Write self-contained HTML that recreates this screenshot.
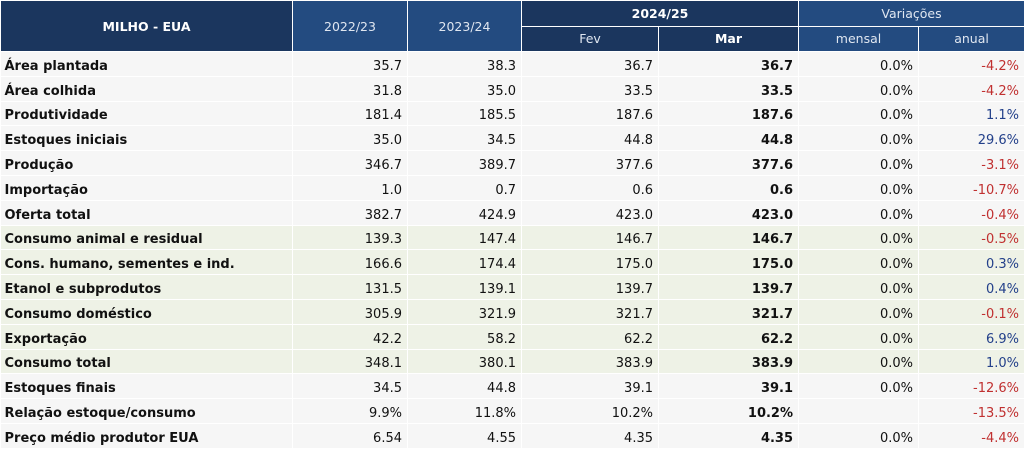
<!DOCTYPE html>
<html><head><meta charset="utf-8"><style>
body{margin:0;width:1024px;height:448px;background:#fff;overflow:hidden}
table{border-collapse:collapse;table-layout:fixed;width:1024px;font-family:"DejaVu Sans","Liberation Sans",sans-serif;font-size:13px;color:#111}
th{font-weight:normal;color:#dfe6f0;height:24.5px;padding:0;border:1px solid #fff;font-size:12.5px}
th.d{background:#1b365e}
th.l{background:#234b80}
th.b{font-weight:bold;color:#fff}
tr.x{height:24.8px}
td{padding:5px 5px 0 4px;border-bottom:1px solid #fff;border-right:1px solid #fff;text-align:right;background:#f6f6f6;line-height:15px}
td:first-child{text-align:left;font-weight:bold;padding-left:4px}
td.m{font-weight:bold}
tr.g td{background:#eef2e6}
.r{color:#c03030}.bl{color:#23408a}
</style></head><body>
<table>
<colgroup><col style="width:292px"><col style="width:115px"><col style="width:114px"><col style="width:137px"><col style="width:140px"><col style="width:120px"><col style="width:106px"></colgroup>
<tr style="height:25.5px"><th class="d b" rowspan="2">MILHO - EUA</th><th class="l" rowspan="2">2022/23</th><th class="l" rowspan="2">2023/24</th><th class="d b" colspan="2">2024/25</th><th class="l" colspan="2">Variações</th></tr>
<tr style="height:25.5px"><th class="d">Fev</th><th class="d b">Mar</th><th class="l">mensal</th><th class="l">anual</th></tr>
<tr class="x"><td>Área plantada</td><td>35.7</td><td>38.3</td><td>36.7</td><td class="m">36.7</td><td>0.0%</td><td class="r">-4.2%</td></tr>
<tr class="x"><td>Área colhida</td><td>31.8</td><td>35.0</td><td>33.5</td><td class="m">33.5</td><td>0.0%</td><td class="r">-4.2%</td></tr>
<tr class="x"><td>Produtividade</td><td>181.4</td><td>185.5</td><td>187.6</td><td class="m">187.6</td><td>0.0%</td><td class="bl">1.1%</td></tr>
<tr class="x"><td>Estoques iniciais</td><td>35.0</td><td>34.5</td><td>44.8</td><td class="m">44.8</td><td>0.0%</td><td class="bl">29.6%</td></tr>
<tr class="x"><td>Produção</td><td>346.7</td><td>389.7</td><td>377.6</td><td class="m">377.6</td><td>0.0%</td><td class="r">-3.1%</td></tr>
<tr class="x"><td>Importação</td><td>1.0</td><td>0.7</td><td>0.6</td><td class="m">0.6</td><td>0.0%</td><td class="r">-10.7%</td></tr>
<tr class="x"><td>Oferta total</td><td>382.7</td><td>424.9</td><td>423.0</td><td class="m">423.0</td><td>0.0%</td><td class="r">-0.4%</td></tr>
<tr class="x g"><td>Consumo animal e residual</td><td>139.3</td><td>147.4</td><td>146.7</td><td class="m">146.7</td><td>0.0%</td><td class="r">-0.5%</td></tr>
<tr class="x g"><td>Cons. humano, sementes e ind.</td><td>166.6</td><td>174.4</td><td>175.0</td><td class="m">175.0</td><td>0.0%</td><td class="bl">0.3%</td></tr>
<tr class="x g"><td>Etanol e subprodutos</td><td>131.5</td><td>139.1</td><td>139.7</td><td class="m">139.7</td><td>0.0%</td><td class="bl">0.4%</td></tr>
<tr class="x g"><td>Consumo doméstico</td><td>305.9</td><td>321.9</td><td>321.7</td><td class="m">321.7</td><td>0.0%</td><td class="r">-0.1%</td></tr>
<tr class="x g"><td>Exportação</td><td>42.2</td><td>58.2</td><td>62.2</td><td class="m">62.2</td><td>0.0%</td><td class="bl">6.9%</td></tr>
<tr class="x g"><td>Consumo total</td><td>348.1</td><td>380.1</td><td>383.9</td><td class="m">383.9</td><td>0.0%</td><td class="bl">1.0%</td></tr>
<tr class="x"><td>Estoques finais</td><td>34.5</td><td>44.8</td><td>39.1</td><td class="m">39.1</td><td>0.0%</td><td class="r">-12.6%</td></tr>
<tr class="x"><td>Relação estoque/consumo</td><td>9.9%</td><td>11.8%</td><td>10.2%</td><td class="m">10.2%</td><td></td><td class="r">-13.5%</td></tr>
<tr class="x"><td>Preço médio produtor EUA</td><td>6.54</td><td>4.55</td><td>4.35</td><td class="m">4.35</td><td>0.0%</td><td class="r">-4.4%</td></tr>
</table>
</body></html>
